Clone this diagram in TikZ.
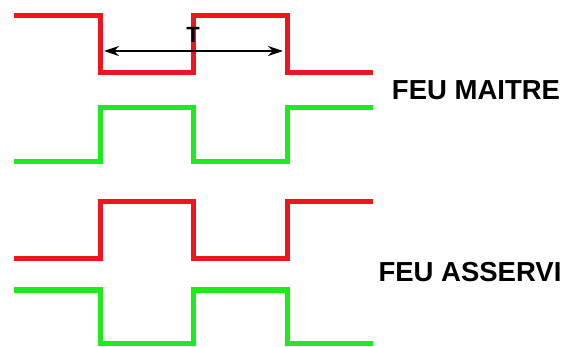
\documentclass[tikz,border=0pt]{standalone}
\usepackage{fontspec}
\setmainfont{Liberation Sans}
\usetikzlibrary{arrows.meta}
\definecolor{feurouge}{RGB}{240,20,30}
\definecolor{feuvert}{RGB}{30,235,30}
\begin{document}
\begin{tikzpicture}[x=1pt, y=-1pt,
        signal/.style={line width=5pt, line join=miter},
        rouge/.style={signal, feurouge},
        vert/.style={signal, feuvert},
        legende/.style={font=\fontsize{27.5}{30}\selectfont\bfseries},
        periode/.style={{Stealth[length=15pt,width=10pt]}-{Stealth[length=15pt,width=10pt]}, line width=1.8pt}]
    \useasboundingbox (0,0) rectangle (570,347);

    % feu maitre
    \draw[rouge] (14,16) -- (100,16) -- (100,73) -- (193,73) -- (193,16) -- (287,16) -- (287,73) -- (373,73);
    \draw[vert] (14,162) -- (100,162) -- (100,108) -- (193,108) -- (193,162) -- (287,162) -- (287,108) -- (373,108);

    % feu asservi
    \draw[rouge] (14,259) -- (100,259) -- (100,202) -- (193,202) -- (193,259) -- (287,259) -- (287,202) -- (373,202);
    \draw[vert] (14,290) -- (100,290) -- (100,343) -- (193,343) -- (193,290) -- (287,290) -- (287,343) -- (373,343);

    % periode T
    \coordinate (debut) at (104,51);
    \coordinate (fin) at (283,51);
    \draw[periode] (debut) -- (fin);
    \draw (193,35) node[font=\fontsize{22}{24}\selectfont\bfseries] (t) {T};

    \draw (476,90) node[legende] (maitre) {FEU MAITRE};
    \draw (470,272) node[legende] (asservi) {FEU ASSERVI};
\end{tikzpicture}
\end{document}
